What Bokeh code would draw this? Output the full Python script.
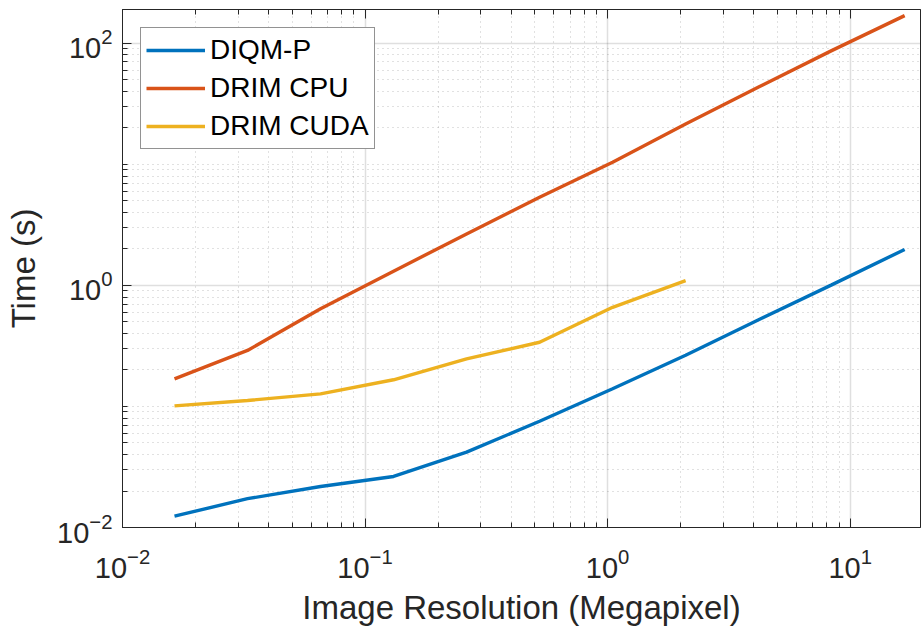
from bokeh.plotting import figure
from bokeh.models import LogAxis, Range1d, FixedTicker, CustomJSTickFormatter
from bokeh.embed import file_html
from bokeh.resources import INLINE

# ---- data ----
resolution_mp = [0.016384, 0.032768, 0.065536, 0.131072, 0.262144, 0.524288,
                 1.048576, 2.097152, 4.194304, 8.388608, 16.777216]
diqm_p = [0.0124, 0.0173, 0.0218, 0.0264, 0.0419, 0.0755, 0.140, 0.265, 0.52, 1.01, 1.98]
drim_cpu = [0.169, 0.290, 0.640, 1.31, 2.66, 5.34, 10.4, 21.5, 43.5, 86.9, 169.0]
drim_cuda = [0.101, 0.112, 0.127, 0.166, 0.247, 0.339, 0.659, 1.095]
series_names = ["DIQM-P", "DRIM CPU", "DRIM CUDA"]
x_major = [0.01, 0.1, 1, 10]
y_major = [0.01, 1, 100]
y_decades = [0.01, 0.1, 1, 10, 100]

FONT = "Liberation Sans"
INK = "#262626"
colors = ["#0072BD", "#D95319", "#EDB120"]

x_minor = [d * m for d in x_major for m in range(2, 10) if d * m < 19.5]
y_minor = [d * m for d in y_decades for m in range(1, 10)
           if d * m < 190 and d * m not in y_major]

p = figure(width=921, height=634, x_axis_type="log", y_axis_type="log",
           x_range=Range1d(0.01, 19.5), y_range=Range1d(0.01, 190),
           output_backend="svg", toolbar_location=None,
           min_border_left=122, min_border_right=1, min_border_top=9,
           min_border_bottom=107, background_fill_color="white",
           border_fill_color="white", outline_line_color=INK)

xt = FixedTicker(ticks=x_major, minor_ticks=x_minor)
yt = FixedTicker(ticks=y_major, minor_ticks=y_minor)
p.xaxis.ticker = xt
p.yaxis.ticker = yt

for ax in (p.xaxis[0], p.yaxis[0]):
    ax.axis_line_color = INK
    ax.major_tick_line_color = INK
    ax.minor_tick_line_color = INK
    ax.major_tick_in = 9
    ax.major_tick_out = 0
    ax.minor_tick_in = 5
    ax.minor_tick_out = 0
    ax.major_label_text_font = FONT
    ax.major_label_text_font_size = "29px"
    ax.major_label_text_color = INK
    ax.axis_label_text_font = FONT
    ax.axis_label_text_font_size = "33px"
    ax.axis_label_text_font_style = "normal"
    ax.axis_label_text_color = INK

p.xaxis.axis_label = "Image Resolution (Megapixel)"
p.yaxis.axis_label = "Time (s)"
p.xaxis.major_label_standoff = 20
p.yaxis.major_label_standoff = 10
p.xaxis.axis_label_standoff = 8
p.yaxis.axis_label_standoff = 12

top_axis = LogAxis(ticker=xt, formatter=CustomJSTickFormatter(code="return ''"),
                   axis_line_color=INK, major_tick_line_color=INK,
                   minor_tick_line_color=INK, major_tick_in=9, major_tick_out=0,
                   minor_tick_in=5, minor_tick_out=0,
                   major_label_text_font_size="0px", major_label_standoff=0)
p.add_layout(top_axis, "above")

for g, tk in ((p.xgrid[0], xt), (p.ygrid[0], yt)):
    g.ticker = tk
    g.grid_line_color = INK
    g.grid_line_alpha = 0.15
    g.grid_line_width = 1.5
    g.minor_grid_line_color = INK
    g.minor_grid_line_alpha = 0.28
    g.minor_grid_line_dash = "1 4"

p.line(resolution_mp, diqm_p, line_color=colors[0], line_width=3.4, legend_label=series_names[0])
p.line(resolution_mp, drim_cpu, line_color=colors[1], line_width=3.4, legend_label=series_names[1])
p.line(resolution_mp[:len(drim_cuda)], drim_cuda, line_color=colors[2], line_width=3.4,
       legend_label=series_names[2])

lg = p.legend[0]
lg.location = "top_left"
lg.margin = 18
lg.padding = 5
lg.spacing = 4
lg.label_height = 34
lg.glyph_height = 34
lg.glyph_width = 59
lg.label_standoff = 5
lg.label_text_font = FONT
lg.label_text_font_size = "28px"
lg.label_text_color = "black"
lg.border_line_color = INK
lg.border_line_width = 1
lg.background_fill_color = "white"
lg.background_fill_alpha = 1.0

open("out.html", "w").write(file_html(p, INLINE))
